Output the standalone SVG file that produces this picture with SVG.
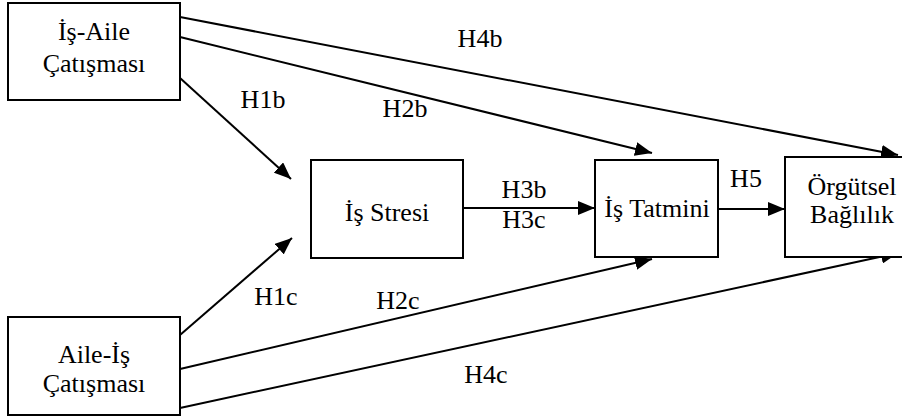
<svg xmlns="http://www.w3.org/2000/svg" width="902" height="416" viewBox="0 0 902 416">
<style>
.box{fill:#fff;stroke:#000;stroke-width:2}
text{font-family:'Liberation Serif','Times New Roman','DejaVu Serif',serif;font-size:26px;fill:#000;text-anchor:middle}
.c{stroke:#000;stroke-width:2;fill:none;marker-end:url(#ah)}
</style>
<defs>
<marker id="ah" markerUnits="userSpaceOnUse" markerWidth="18" markerHeight="14" refX="17" refY="7" orient="auto">
<path d="M0,0 L17,7 L0,14 Z" fill="#000"/>
</marker>
</defs>
<g id="connectors">
<line class="c" x1="180" y1="17" x2="898" y2="155"/>
<line class="c" x1="180" y1="37" x2="652" y2="153"/>
<line class="c" x1="180" y1="78" x2="291" y2="179"/>
<line class="c" x1="180" y1="335" x2="292" y2="238"/>
<line class="c" x1="180" y1="369" x2="652" y2="259"/>
<line class="c" x1="180" y1="408" x2="898" y2="253"/>
<line class="c" x1="463" y1="208" x2="595" y2="208"/>
<line class="c" x1="718" y1="209" x2="785" y2="209"/>
</g>
<g id="labels">
<text x="480" y="47">H4b</text>
<text x="263" y="108">H1b</text>
<text x="405" y="117">H2b</text>
<text x="524" y="198">H3b</text>
<text x="524" y="228">H3c</text>
<text x="746" y="187">H5</text>
<text x="276" y="305">H1c</text>
<text x="398" y="309">H2c</text>
<text x="486" y="383">H4c</text>
</g>
<g id="n-is-aile">
<rect class="box" x="8" y="3" width="172" height="97"/>
<text x="94" y="40">İş-Aile</text>
<text x="94" y="72">Çatışması</text>
</g>
<g id="n-aile-is">
<rect class="box" x="8" y="317" width="172" height="98"/>
<text x="94" y="363">Aile-İş</text>
<text x="94" y="392">Çatışması</text>
</g>
<g id="n-is-stresi">
<rect class="box" x="311" y="160" width="152" height="98"/>
<text x="387" y="221">İş Stresi</text>
</g>
<g id="n-is-tatmini">
<rect class="box" x="595" y="160" width="123" height="97"/>
<text x="657" y="217">İş Tatmini</text>
</g>
<g id="n-orgutsel">
<rect class="box" x="785" y="157" width="125" height="100"/>
<text x="852" y="195">Örgütsel</text>
<text x="852" y="223">Bağlılık</text>
</g>
</svg>
